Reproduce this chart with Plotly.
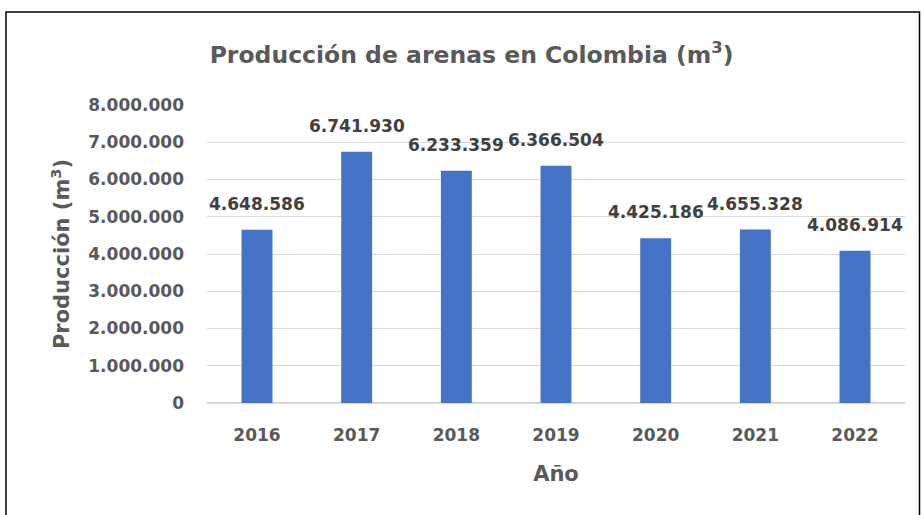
import plotly.graph_objects as go

years = ["2016", "2017", "2018", "2019", "2020", "2021", "2022"]
production = [4648586, 6741930, 6233359, 6366504, 4425186, 4655328, 4086914]
tick_values = [0, 1000000, 2000000, 3000000, 4000000, 5000000, 6000000, 7000000, 8000000]


def fmt(v):
    return f"{v:,}".replace(",", ".")


tick_text = [fmt(v) for v in tick_values]
labels = [fmt(v) for v in production]

FONT = "DejaVu Sans"
GREY = "#595959"
DARK = "#404040"

fig = go.Figure(
    go.Bar(
        x=years,
        y=production,
        marker=dict(color="#4472C4", line=dict(width=0)),
        width=0.31,
        hoverinfo="x+y",
    )
)

# value labels above each bar (category axes take the category's serial index)
for i, (val, lab) in enumerate(zip(production, labels)):
    fig.add_annotation(
        x=i, y=val, text=lab, showarrow=False,
        xanchor="center", yanchor="middle", yshift=26,
        font=dict(family=FONT, size=17, color=DARK, weight="bold"),
    )

# frame around the chart area
L, R, T, B = 207, 16, 105, 112
W, H = 921, 515
pw, ph = W - L - R, H - T - B


def px_x(p):
    return (p - L) / pw


def px_y(p):
    return (H - B - p) / ph


fig.add_shape(
    type="rect", xref="paper", yref="paper",
    x0=px_x(6), x1=px_x(919.5), y0=px_y(530), y1=px_y(12),
    line=dict(color="#000000", width=1.5), fillcolor="rgba(0,0,0,0)",
)

fig.update_layout(
    width=W, height=H,
    margin=dict(l=L, r=R, t=T, b=B),
    paper_bgcolor="white", plot_bgcolor="white",
    showlegend=False,
    title=dict(
        text="Producción de arenas en Colombia (m<sup>3</sup>)",
        x=0.512, xanchor="center", y=0.893, yanchor="middle",
        font=dict(family=FONT, size=23.5, color=GREY, weight="bold"),
    ),
    xaxis=dict(
        type="category",
        tickfont=dict(family=FONT, size=17, color=GREY, weight="bold"),
        ticklabelstandoff=20,
        title=dict(text="Año", font=dict(family=FONT, size=21, color=GREY, weight="bold"), standoff=22),
        showline=False, ticks="", showgrid=False,
    ),
    yaxis=dict(
        range=[0, 8000000],
        tickvals=tick_values, ticktext=tick_text,
        tickfont=dict(family=FONT, size=17, color=GREY, weight="bold"),
        ticklabelstandoff=22,
        title=dict(text="Producción (m<sup>3</sup>)", font=dict(family=FONT, size=21, color=GREY, weight="bold"), standoff=12),
        showgrid=True, gridcolor="#D9D9D9", gridwidth=1,
        zeroline=True, zerolinecolor="#D9D9D9", zerolinewidth=1.5,
        ticks="", showline=False,
    ),
)

fig.write_html("out.html")
